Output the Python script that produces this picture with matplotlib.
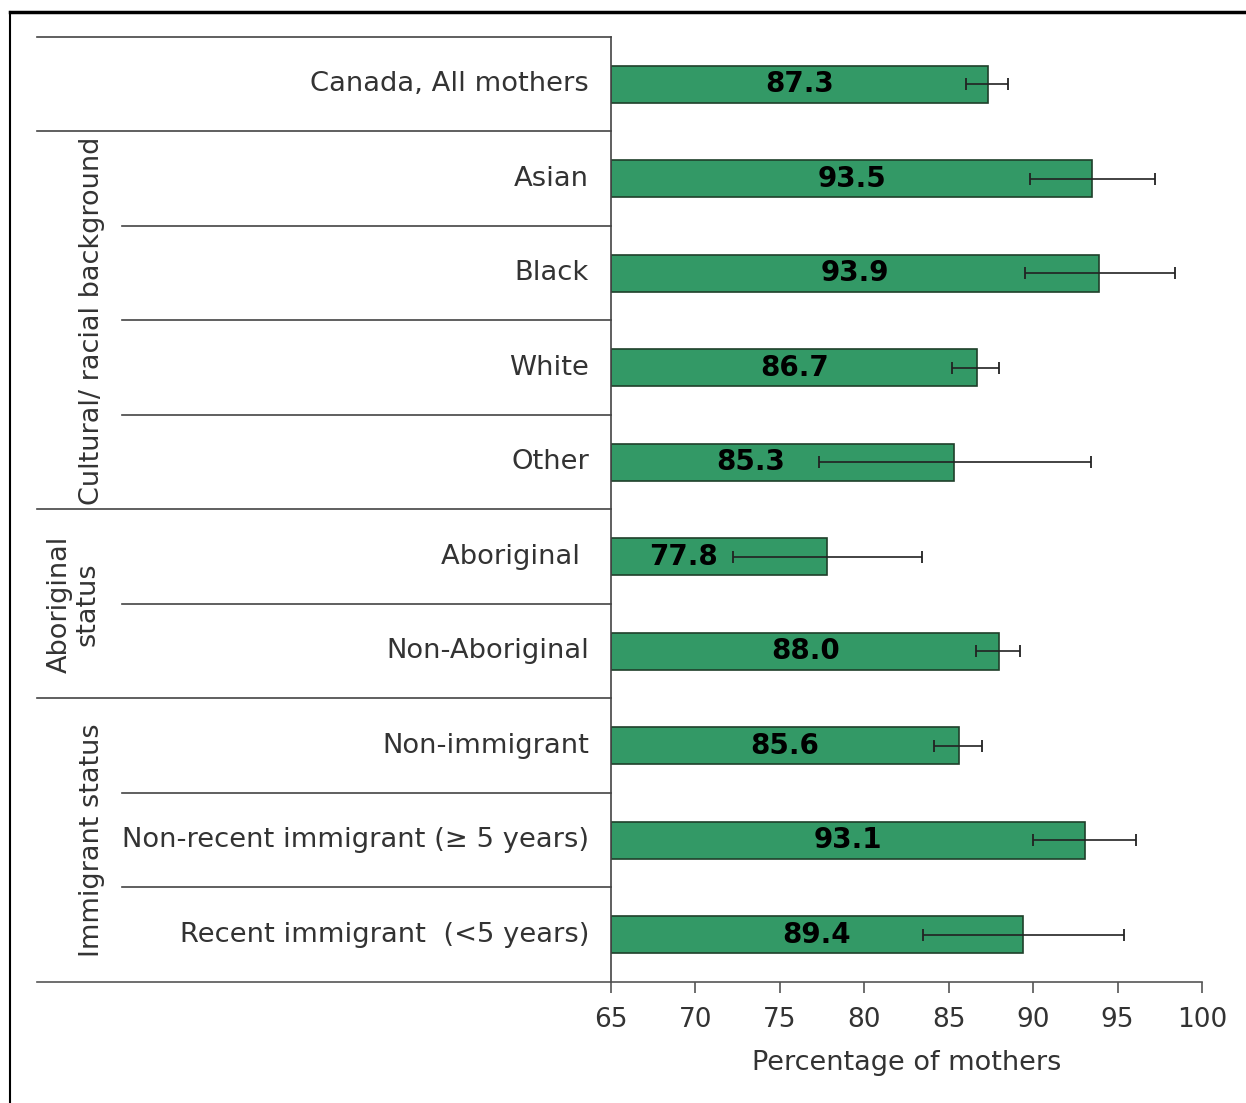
import matplotlib
matplotlib.use("Agg")
import matplotlib.pyplot as plt
from matplotlib.lines import Line2D
from matplotlib.transforms import blended_transform_factory

# Данні
categories = ["Canada, All mothers", "Asian", "Black", "White", "Other",
              "Aboriginal ", "Non-Aboriginal", "Non-immigrant",
              "Non-recent immigrant (\u2265 5 years)", "Recent immigrant  (<5 years)"]
values = [87.3, 93.5, 93.9, 86.7, 85.3, 77.8, 88.0, 85.6, 93.1, 89.4]
ci_low = [86.0, 89.8, 89.5, 85.2, 77.3, 72.2, 86.6, 84.1, 90.0, 83.5]
ci_high = [88.5, 97.2, 98.4, 88.0, 93.4, 83.4, 89.2, 87.0, 96.1, 95.4]
groups = ["Cultural/ racial background", "Aboriginal\nstatus", "Immigrant status"]
group_rows = [(1, 4), (5, 6), (7, 9)]
xticks = [65, 70, 75, 80, 85, 90, 95, 100]

W, H = 1246, 1103
fig = plt.figure(figsize=(W / 100, H / 100), dpi=100)
ax = fig.add_axes([611 / W, 1 - 982 / H, (1202 - 611) / W, (982 - 37) / H])

y = list(range(len(values)))
err = [[v - lo for v, lo in zip(values, ci_low)], [hi - v for v, hi in zip(values, ci_high)]]
ax.barh(y, [v - 65 for v in values], left=65, height=0.39, color="#339966",
        edgecolor="#1f3f2a", linewidth=1.2, zorder=2)
ax.errorbar(values, y, xerr=err, fmt="none", ecolor="#222222", elinewidth=1.2,
            capsize=4, capthick=1.3, zorder=3)

# Підписи значень (два зсунуті, щоб не перекривати похибку)
shift = {5: 69.3, 4: 73.3}
for i, v in enumerate(values):
    xc = shift.get(i, (65 + v) / 2)
    ax.text(xc, i, f"{v:.1f}", ha="center", va="center", fontsize=20,
            fontweight="bold", color="black", zorder=4)

ax.set_xlim(65, 100)
ax.set_ylim(9.5, -0.5)
ax.set_yticks([])
ax.set_xticks(xticks)
ax.tick_params(axis="x", direction="out", length=8, width=1.2, colors="#555555",
               labelsize=19, labelcolor="#333333", pad=10)
for s in ["top", "right"]:
    ax.spines[s].set_visible(False)
ax.spines["left"].set_color("#444444")
ax.spines["bottom"].set_color("#555555")
ax.spines["left"].set_linewidth(1.2)
ax.spines["bottom"].set_linewidth(1.2)
ax.set_xlabel("Percentage of mothers", fontsize=19.5, color="#333333", labelpad=12)

# Ліва панель з підписами
tr = blended_transform_factory(fig.transFigure, ax.transData)
x_full = 37 / W
x_inner = 122 / W
x_axis = 611 / W
for yy in [-0.5, 0.5, 4.5, 6.5]:
    ax.add_line(Line2D([x_full, x_axis], [yy, yy], transform=tr, color="#444444",
                       lw=1.2, clip_on=False))
ax.add_line(Line2D([x_full, x_axis], [9.5, 9.5], transform=tr, color="#555555",
                   lw=1.2, clip_on=False))
for yy in [1.5, 2.5, 3.5, 5.5, 7.5, 8.5]:
    ax.add_line(Line2D([x_inner, x_axis], [yy, yy], transform=tr, color="#444444",
                       lw=1.2, clip_on=False))

for i, c in enumerate(categories):
    ax.text(589 / W, i, c, transform=tr, ha="right", va="center", fontsize=19.7,
            color="#333333")

for g, (a, b) in zip(groups, group_rows):
    gx = 74 / W if "\n" in g else 92 / W
    ax.text(gx, (a + b) / 2, g, transform=tr, ha="center", va="center",
            rotation=90, fontsize=19.5, color="#333333", linespacing=1.1)

# Рамка
fig.add_artist(Line2D([10 / W, 1], [1 - 12 / H, 1 - 12 / H], transform=fig.transFigure,
                      color="black", lw=2.5))
fig.add_artist(Line2D([10 / W, 10 / W], [0, 1 - 12 / H], transform=fig.transFigure,
                      color="black", lw=1.5))

fig.savefig("out.png", dpi=100)
